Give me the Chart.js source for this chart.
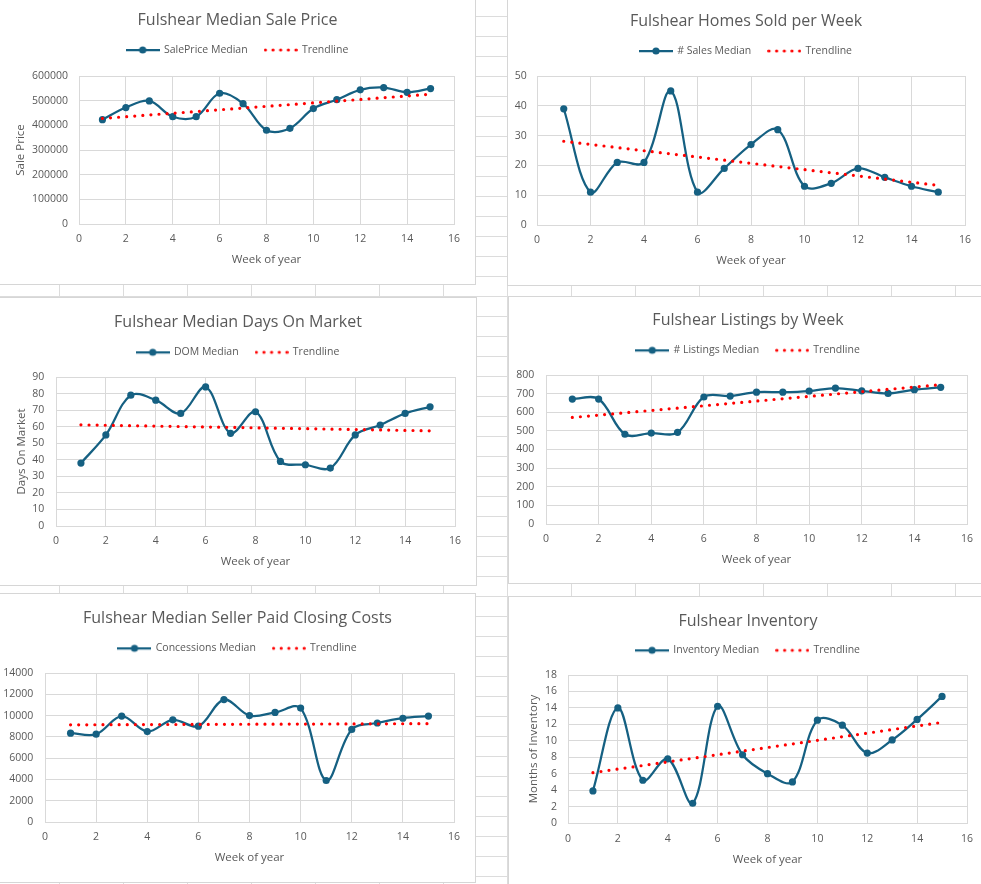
<!DOCTYPE html>
<html>
<head>
<meta charset="utf-8">
<script src="https://cdn.jsdelivr.net/npm/chart.js@4.4.1/dist/chart.umd.min.js"></script>
<style>
html,body{margin:0;padding:0;}
body{width:981px;height:884px;overflow:hidden;position:relative;background-color:#fff;
background-image:linear-gradient(to right,#dcdcdc 1px,transparent 1px),linear-gradient(to bottom,#dcdcdc 1px,transparent 1px);
background-size:64px 20px;background-position:59px 16px;}
.box{position:absolute;background:#fff;border:1px solid #d6d6d6;}
.box canvas{display:block;}
</style>
</head>
<body>
<div class="box" style="left:-1px;top:-1px;width:475px;height:284px"><canvas id="c1" width="475" height="284"></canvas></div>
<div class="box" style="left:507px;top:-1px;width:476px;height:285px"><canvas id="c2" width="476" height="285"></canvas></div>
<div class="box" style="left:-1px;top:297px;width:476px;height:287px"><canvas id="c3" width="476" height="287"></canvas></div>
<div class="box" style="left:508px;top:296px;width:478px;height:286px"><canvas id="c4" width="478" height="286"></canvas></div>
<div class="box" style="left:-1px;top:593px;width:475px;height:288px"><canvas id="c5" width="475" height="288"></canvas></div>
<div class="box" style="left:508px;top:596px;width:478px;height:290px"><canvas id="c6" width="478" height="290"></canvas></div>
<script>
// ---------- DATA ----------
const weeks = [1, 2, 3, 4, 5, 6, 7, 8, 9, 10, 11, 12, 13, 14, 15];
const trendWeeks = [1, 15];

const salePrice = [423000, 472000, 499000, 435000, 435000, 530000, 488000, 380000, 388000, 468000, 504000, 544000, 553000, 534000, 549000];
const salePriceTrend = [428000, 526000];

const salesCount = [39, 11, 21, 21, 45, 11, 19, 27, 32, 13, 14, 19, 16, 13, 11];
const salesTrend = [28.1, 13.3];

const domMedian = [38, 55, 79, 76, 68, 84, 56, 69, 39, 37, 35, 55, 61, 68, 72];
const domTrend = [61.1, 57.5];

const listings = [671, 671, 482, 488, 492, 682, 687, 708, 708, 714, 730, 715, 701, 721, 734];
const listingsTrend = [572, 748];

const concessions = [8350, 8250, 9950, 8500, 9600, 9000, 11500, 10000, 10300, 10700, 3900, 8700, 9300, 9750, 9950];
const concessionsTrend = [9130, 9240];

const inventory = [3.9, 14.0, 5.2, 7.8, 2.4, 14.2, 8.3, 6.0, 5.0, 12.5, 11.9, 8.5, 10.1, 12.6, 15.4];
const inventoryTrend = [6.12, 12.24];

const xTicksMax = 16, xTickStep = 2;

// ---------- STYLE ----------
const FONT = "'Open Sans', sans-serif";
const WEIGHT = 500;
const GRAY = '#595959';
const LINE = '#156082';
const RED = '#ff0000';
const GRID = '#d9d9d9';

function lineMarkerImg() {
  const c = document.createElement('canvas'); c.width = 34; c.height = 12;
  const g = c.getContext('2d');
  g.strokeStyle = LINE; g.lineWidth = 2.25;
  g.beginPath(); g.moveTo(0, 6); g.lineTo(34, 6); g.stroke();
  g.fillStyle = LINE; g.beginPath(); g.arc(17, 6, 3.6, 0, Math.PI * 2); g.fill();
  return c;
}
function dotsImg() {
  const c = document.createElement('canvas'); c.width = 34; c.height = 12;
  const g = c.getContext('2d');
  g.fillStyle = RED;
  for (let i = 0; i < 5; i++) { g.beginPath(); g.arc(1.7 + i * 7.65, 6, 1.6, 0, Math.PI * 2); g.fill(); }
  return c;
}
const imgLine = lineMarkerImg();
const imgDots = dotsImg();

function makeChart(s) {
  const titleSize = 16, titleLH = titleSize;
  const legSize = 10.5, P = 17;
  const Tc = s.Tc + 2, Lc = s.Lc + 1;
  const p1 = Tc - titleLH / 2;
  const legendTop = Lc - P - legSize / 2;
  const p2 = legendTop - p1 - titleLH;
  const gapH = s.T - (legendTop + legSize + P + 10);
  const tickSize = 10.5, tickLH = tickSize * 1.2;
  const axSize = 11.5, axLH = axSize * 1.2;

  new Chart(document.getElementById(s.id), {
    type: 'line',
    data: {
      datasets: [
        { label: s.legendLabel, data: weeks.map((w, i) => ({ x: w, y: s.values[i] })),
          borderColor: LINE, backgroundColor: LINE, borderWidth: 2.25,
          pointRadius: 3.6, pointBackgroundColor: LINE, pointBorderColor: LINE, pointBorderWidth: 0,
          tension: 0.35, order: 1, xAxisID: 'x', yAxisID: 'y' },
        { label: 'Trendline', data: trendWeeks.map((w, i) => ({ x: w, y: s.trend[i] })),
          borderColor: RED, backgroundColor: RED, borderWidth: 3.2, borderDash: [0, 8.1], borderCapStyle: 'round',
          pointRadius: 0, tension: 0, order: 0, xAxisID: 'x', yAxisID: 'y' }
      ]
    },
    options: {
      responsive: false, animation: false, events: [],
      layout: { padding: 0 },
      plugins: {
        tooltip: { enabled: false },
        title: { display: true, text: s.title, color: GRAY,
          font: { family: FONT, size: titleSize, weight: WEIGHT, lineHeight: 1 },
          padding: { top: p1, bottom: p2 } },
        legend: { display: true, position: 'top',
          labels: { usePointStyle: true, pointStyleWidth: 32, padding: P, color: GRAY,
            font: { family: FONT, size: legSize, weight: WEIGHT },
            generateLabels: (chart) => chart.data.datasets.map((ds, i) => ({
              text: ds.label, pointStyle: i === 0 ? imgLine : imgDots,
              fillStyle: 'rgba(0,0,0,0)', strokeStyle: 'rgba(0,0,0,0)', lineWidth: 0,
              hidden: false, datasetIndex: i, fontColor: GRAY })) } }
      },
      scales: {
        x: { type: 'linear', position: 'bottom', min: 0, max: xTicksMax,
          ticks: { stepSize: xTickStep, autoSkip: false, color: GRAY, font: { family: FONT, size: tickSize, weight: WEIGHT },
            padding: s.xtc - s.B - tickLH / 2, maxRotation: 0 },
          grid: { color: GRID, drawTicks: false, lineWidth: 1 },
          border: { color: GRID },
          title: { display: true, text: 'Week of year', color: GRAY, font: { family: FONT, size: axSize, weight: WEIGHT },
            padding: { top: 0, bottom: s.H - s.xtt - axLH / 2 } },
          afterFit: (sc) => { sc.height = s.H - s.B; } },
        y: { type: 'linear', position: 'left', min: 0, max: s.ymax,
          ticks: { stepSize: s.ystep, autoSkip: false, color: GRAY, font: { family: FONT, size: tickSize, weight: WEIGHT },
            padding: s.L - s.ytr, callback: (v) => String(v) },
          grid: { color: GRID, drawTicks: false, lineWidth: 1 },
          border: { color: GRID },
          title: { display: !!s.yTitle, text: s.yTitle || '', color: GRAY, font: { family: FONT, size: axSize, weight: WEIGHT },
            padding: { top: s.ytx ? s.ytx - axLH / 2 : 0, bottom: 0 } },
          afterFit: (sc) => { sc.width = s.L; } },
        gapTop: { type: 'linear', position: 'top', display: true, min: 0, max: 1,
          grid: { display: false }, border: { display: false }, ticks: { display: false },
          afterFit: (sc) => { sc.height = gapH; } },
        gapRight: { type: 'linear', position: 'right', display: true, min: 0, max: 1,
          grid: { display: false }, border: { display: false }, ticks: { display: false },
          afterFit: (sc) => { sc.width = s.W - s.R; } }
      }
    }
  });
}

makeChart({ id: 'c1', W: 475, H: 284, title: 'Fulshear Median Sale Price', legendLabel: 'SalePrice Median', yTitle: 'Sale Price',
  values: salePrice, trend: salePriceTrend, ymax: 600000, ystep: 100000,
  Tc: 18, Lc: 49, L: 79, R: 454, T: 76, B: 224, ytr: 68, xtc: 239, xtt: 260, ytx: 20.7 });
makeChart({ id: 'c2', W: 476, H: 285, title: 'Fulshear Homes Sold per Week', legendLabel: '# Sales Median', yTitle: '',
  values: salesCount, trend: salesTrend, ymax: 50, ystep: 10,
  Tc: 19.3, Lc: 50, L: 29, R: 457, T: 76, B: 225, ytr: 18.7, xtc: 240, xtt: 261, ytx: 0 });
makeChart({ id: 'c3', W: 476, H: 287, title: 'Fulshear Median Days On Market', legendLabel: 'DOM Median', yTitle: 'Days On Market',
  values: domMedian, trend: domTrend, ymax: 90, ystep: 10,
  Tc: 22.7, Lc: 53.3, L: 56, R: 455, T: 79, B: 228, ytr: 44.3, xtc: 242.7, xtt: 263.7, ytx: 21.7 });
makeChart({ id: 'c4', W: 478, H: 286, title: 'Fulshear Listings by Week', legendLabel: '# Listings Median', yTitle: '',
  values: listings, trend: listingsTrend, ymax: 800, ystep: 100,
  Tc: 21.3, Lc: 52.3, L: 37, R: 458, T: 78, B: 227, ytr: 25.3, xtc: 242, xtt: 263, ytx: 0 });
makeChart({ id: 'c5', W: 475, H: 288, title: 'Fulshear Median Seller Paid Closing Costs', legendLabel: 'Concessions Median', yTitle: '',
  values: concessions, trend: concessionsTrend, ymax: 14000, ystep: 2000,
  Tc: 22.7, Lc: 53.3, L: 45, R: 454, T: 79, B: 228, ytr: 33.3, xtc: 243.3, xtt: 263.7, ytx: 0 });
makeChart({ id: 'c6', W: 478, H: 290, title: 'Fulshear Inventory', legendLabel: 'Inventory Median', yTitle: 'Months of Inventory',
  values: inventory, trend: inventoryTrend, ymax: 18, ystep: 2,
  Tc: 22, Lc: 52.3, L: 59, R: 458, T: 78, B: 226, ytr: 48, xtc: 242, xtt: 263, ytx: 24.3 });
</script>
</body>
</html>
